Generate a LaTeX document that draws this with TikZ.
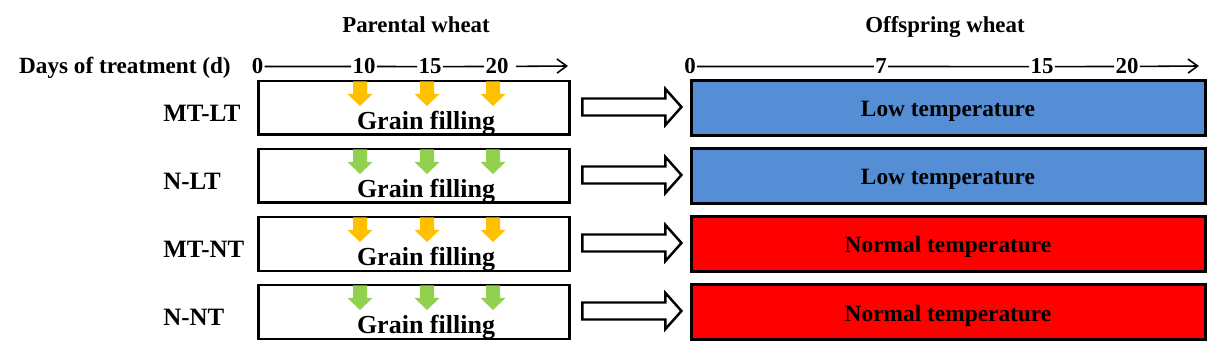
\documentclass[tikz,border=0pt]{standalone}
\usepackage{fontspec}
\setmainfont{Liberation Serif}
\usetikzlibrary{
  calc, % For offsets from node anchors
  arrows.meta % For arrow tips
}
\definecolor{lowblue}{HTML}{558ED5}
\definecolor{normred}{HTML}{FF0000}
\definecolor{mtorange}{HTML}{FFC000}
\definecolor{ngreen}{HTML}{92D050}

\begin{document}
\begin{tikzpicture}[
      x=0.02cm, y=-0.02cm, % one unit = one pixel, y downwards
      >={Straight Barb[length=5.5pt,width=8pt]}, % Default arrow tip
      stagebox/.style={draw, line width=1.7pt, minimum width=6.22cm, minimum height=1.08cm, inner sep=0pt}, % parental box
      treatbox/.style={draw, line width=1.7pt, minimum width=10.3cm, minimum height=1.1cm, inner sep=0pt}, % offspring box
      heading/.style={font=\fontsize{13}{15}\selectfont\bfseries, anchor=base, inner sep=0pt},
      daylabel/.style={font=\fontsize{13.2}{15}\selectfont\bfseries, anchor=base east, inner sep=0pt},
      daynum/.style={font=\fontsize{13}{15}\selectfont\bfseries, anchor=base, inner sep=0.6pt},
      rowlabel/.style={font=\fontsize{14.2}{16}\selectfont\bfseries, anchor=base west, inner sep=0pt},
      fillnote/.style={font=\fontsize{14.8}{16}\selectfont\bfseries, anchor=base, inner sep=0pt},
      tempnote/.style={font=\fontsize{13.3}{15}\selectfont\bfseries, anchor=base, inner sep=0pt},
      timeline/.style={line width=0.9pt}, % day axis
      blockarrow/.style={line width=1.4pt, miter limit=10, fill=white}, % hollow arrow
    ]
    \useasboundingbox (0,0) rectangle (1221,361);

    % Titles
    \node[heading] (parhead) at (416, 33) {Parental wheat};
    \node[heading] (offhead) at (945, 33) {Offspring wheat};
    \node[daylabel] (days) at (231, 74) {Days of treatment (d)};

    % Day axis, parents
    \foreach \n/\x in {0/257.5, 10/364, 15/430, 20/497}
    \node[daynum] (l\n) at (\x, 74) {\n};
    \coordinate (lend) at (568, 66);
    \draw[timeline] (l0) -- (l10) -- (l15) -- (l20);
    \draw[timeline, ->, shorten <=3.5pt] (l20) -- (lend);

    % Day axis, offspring
    \foreach \n/\x in {0/690, 7/881, 15/1042, 20/1127}
    \node[daynum] (r\n) at (\x, 74) {\n};
    \coordinate (rend) at (1199, 66);
    \draw[timeline] (r0) -- (r7) -- (r15) -- (r20);
    \draw[timeline, ->] (r20) -- (rend);

    % Treatments
    \foreach \r/\lab/\acol/\ocol/\otxt in {
        1/MT-LT/mtorange/lowblue/Low temperature,
        2/N-LT/ngreen/lowblue/Low temperature,
        3/MT-NT/mtorange/normred/Normal temperature,
        4/N-NT/ngreen/normred/Normal temperature}
    {
      \pgfmathsetmacro{\c}{108+68*(\r-1)}
      \node[rowlabel] (lab\r) at (163, \c+14) {\lab};
      \node[stagebox] (par\r) at (414, \c) {};
      \node[treatbox, fill=\ocol] (off\r) at (948.5, \c) {};
      \node[fillnote] (gf\r) at (426, \c+22) {Grain filling};
      \node[tempnote] (tt\r) at (948, \c+9) {\otxt};

      % Treatment days
      \foreach \x in {360, 427, 493}
      \fill[\acol] (\x-7, \c-26.5) -- (\x+7, \c-26.5) -- (\x+7, \c-14) -- (\x+12.5, \c-14)
        -- (\x, \c-2) -- (\x-12.5, \c-14) -- (\x-7, \c-14) -- cycle;

      % Parent -> offspring
      \draw[blockarrow] ($(par\r.east)+(11.5,-9.5)$) -- ++(83,0) -- ++(0,-9.5) -- ++(16,18)
        -- ++(-16,18) -- ++(0,-9.5) -- ++(-83,0) -- cycle;
    }
  \end{tikzpicture}
\end{document}
